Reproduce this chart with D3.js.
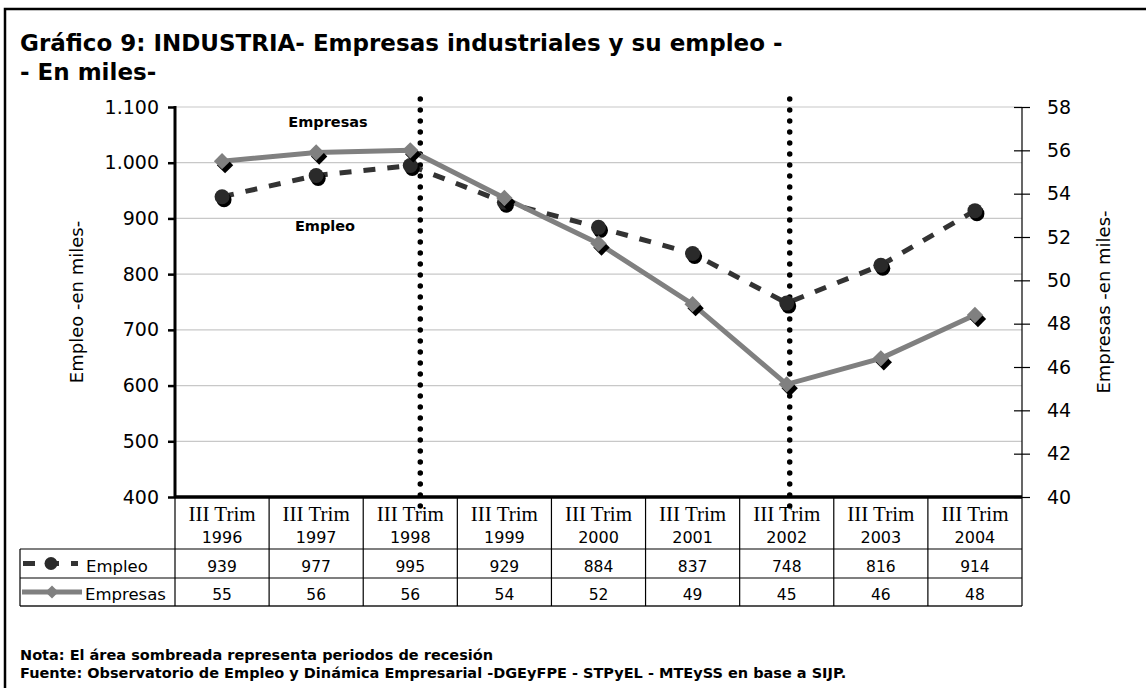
<!DOCTYPE html>
<html>
<head>
<meta charset="utf-8">
<script src="https://cdnjs.cloudflare.com/ajax/libs/d3/7.8.5/d3.min.js"></script>
<style>
  body { margin: 0; background: #fff; }
  #chart { width: 1146px; height: 688px; }
</style>
</head>
<body>
<div id="chart"></div>
<script>
// categories (third quarter of each year)
const years = ["1996", "1997", "1998", "1999", "2000", "2001", "2002", "2003", "2004"];
// Empleo, thousands (left axis)
const empleo = [939, 977, 995, 929, 884, 837, 748, 816, 914];
// Empresas, thousands (right axis) - plotted values, table shows them rounded
const empresas = [55.5, 55.9, 56.0, 53.8, 51.7, 48.9, 45.2, 46.4, 48.4];
const empresasTable = [55, 56, 56, 54, 52, 49, 45, 46, 48];
const leftTicks = [400, 500, 600, 700, 800, 900, 1000, 1100];
const rightTicks = [40, 42, 44, 46, 48, 50, 52, 54, 56, 58];
const recession = ["1998", "2002"];

const W = 1146, H = 688;
const svg = d3.select("#chart").append("svg").attr("width", W).attr("height", H)
  .attr("font-family", "DejaVu Sans, Verdana, sans-serif");

const plot = {left: 175, right: 1022, top: 107, bottom: 497};
const row1 = 549, row2 = 578, row3 = 606, legLeft = 20;

const x = d3.scaleBand().domain(years).range([plot.left, plot.right]);
const cx = d => x(d) + x.bandwidth() / 2;
const yL = d3.scaleLinear().domain([400, 1100]).range([plot.bottom, plot.top]);
const yR = d3.scaleLinear().domain([40, 58]).range([plot.bottom, plot.top]);

const es = d3.formatLocale({decimal: ",", thousands: ".", grouping: [3], currency: ["$", ""]});
const fmt = es.format(",");

// frame
svg.append("rect").attr("x", 5).attr("y", 9).attr("width", W + 10).attr("height", H + 10)
  .attr("fill", "none").attr("stroke", "#000").attr("stroke-width", 2.5);

// title
svg.append("text").attr("x", 20).attr("y", 51).attr("font-weight", "bold").attr("font-size", 23)
  .text("Gráfico 9: INDUSTRIA- Empresas industriales y su empleo -");
svg.append("text").attr("x", 20).attr("y", 80).attr("font-weight", "bold").attr("font-size", 23)
  .text("- En miles-");

// gridlines
svg.append("g").selectAll("line").data(leftTicks.slice(1)).join("line")
  .attr("x1", plot.left).attr("x2", plot.right)
  .attr("y1", d => yL(d)).attr("y2", d => yL(d))
  .attr("stroke", "#c8c8c8").attr("stroke-width", 1.2);

// left axis
const gL = svg.append("g").attr("transform", `translate(${plot.left},0)`)
  .call(d3.axisLeft(yL).tickValues(leftTicks).tickFormat(fmt).tickSize(7).tickPadding(9));
gL.select(".domain").remove();
gL.selectAll(".tick line").attr("stroke", "#000").attr("stroke-width", 2.5);
gL.selectAll(".tick text").attr("font-size", 19).attr("font-family", "DejaVu Sans").attr("fill", "#000");
svg.append("line").attr("x1", plot.left).attr("x2", plot.left).attr("y1", plot.top - 1).attr("y2", plot.bottom)
  .attr("stroke", "#000").attr("stroke-width", 3);

// right axis
const gR = svg.append("g").attr("transform", `translate(${plot.right},0)`)
  .call(d3.axisRight(yR).tickValues(rightTicks).tickSize(8).tickPadding(17));
gR.select(".domain").remove();
gR.selectAll(".tick line").attr("x1", -8).attr("stroke", "#000").attr("stroke-width", 1.2);
gR.selectAll(".tick text").attr("font-size", 19).attr("font-family", "DejaVu Sans").attr("fill", "#000");

// axis titles
svg.append("text").attr("transform", `translate(83,${(plot.top + plot.bottom) / 2}) rotate(-90)`)
  .attr("text-anchor", "middle").attr("font-size", 18).text("Empleo -en miles-");
svg.append("text").attr("transform", `translate(1110,${(plot.top + plot.bottom) / 2}) rotate(-90)`)
  .attr("text-anchor", "middle").attr("font-size", 18).text("Empresas -en miles-");

// table grid
const tg = svg.append("g").attr("stroke", "#000").attr("stroke-width", 1.2);
tg.append("line").attr("x1", legLeft).attr("x2", plot.right).attr("y1", row1).attr("y2", row1);
tg.append("line").attr("x1", legLeft).attr("x2", plot.right).attr("y1", row2).attr("y2", row2);
tg.append("line").attr("x1", legLeft).attr("x2", plot.right).attr("y1", row3).attr("y2", row3)
  .attr("stroke", "#555").attr("stroke-width", 2);
tg.append("line").attr("x1", legLeft).attr("x2", legLeft).attr("y1", row1).attr("y2", row3);
tg.selectAll("line.col").data(years).join("line").attr("class", "col")
  .attr("x1", d => x(d)).attr("x2", d => x(d)).attr("y1", plot.bottom).attr("y2", row3);
tg.append("line").attr("x1", plot.right).attr("x2", plot.right).attr("y1", plot.top).attr("y2", row3);

// bottom axis line
svg.append("line").attr("x1", plot.left).attr("x2", plot.right).attr("y1", plot.bottom).attr("y2", plot.bottom)
  .attr("stroke", "#000").attr("stroke-width", 3.5);

// table header
const hdr = svg.append("g").selectAll("g").data(years).join("g");
hdr.append("text").attr("x", cx).attr("y", plot.bottom + 24).attr("text-anchor", "middle")
  .attr("font-family", "Liberation Serif").attr("font-size", 21).text("III Trim");
hdr.append("text").attr("x", cx).attr("y", plot.bottom + 46).attr("text-anchor", "middle")
  .attr("font-size", 16).text(d => d);

// table values
svg.append("g").selectAll("text").data(empleo).join("text")
  .attr("x", (d, i) => cx(years[i])).attr("y", row1 + 23).attr("text-anchor", "middle")
  .attr("font-size", 15.5).text(d => d);
svg.append("g").selectAll("text").data(empresasTable).join("text")
  .attr("x", (d, i) => cx(years[i])).attr("y", row2 + 22).attr("text-anchor", "middle")
  .attr("font-size", 15.5).text(d => d);

// recession markers (dotted)
svg.append("g").selectAll("line").data(recession).join("line")
  .attr("x1", (d, i) => cx(d) + (i === 0 ? 10 : 3)).attr("x2", (d, i) => cx(d) + (i === 0 ? 10 : 3))
  .attr("y1", plot.top - 8).attr("y2", plot.bottom + 10)
  .attr("stroke", "#000").attr("stroke-width", 5.5).attr("stroke-linecap", "round")
  .attr("stroke-dasharray", "0,11");

// series
const lineE = d3.line().x((d, i) => cx(years[i])).y(d => yL(d));
const lineP = d3.line().x((d, i) => cx(years[i])).y(d => yR(d));

svg.append("path").datum(empleo).attr("d", lineE).attr("fill", "none")
  .attr("stroke", "#333").attr("stroke-width", 5).attr("stroke-dasharray", "12,12");
svg.append("path").datum(empresas).attr("d", lineP).attr("fill", "none")
  .attr("stroke", "#808080").attr("stroke-width", 5);

const diamond = d3.symbol().type(d3.symbolDiamond2).size(170);

// Empleo markers with shadow
const gE = svg.append("g");
gE.selectAll("circle.sh").data(empleo).join("circle").attr("class", "sh")
  .attr("cx", (d, i) => cx(years[i]) + 2).attr("cy", d => yL(d) + 3).attr("r", 7.5).attr("fill", "#000");
gE.selectAll("circle.mk").data(empleo).join("circle").attr("class", "mk")
  .attr("cx", (d, i) => cx(years[i])).attr("cy", d => yL(d)).attr("r", 7.5).attr("fill", "#2a2a2a");

// Empresas markers with shadow
const gP = svg.append("g");
gP.selectAll("path.sh").data(empresas).join("path").attr("class", "sh")
  .attr("transform", (d, i) => `translate(${cx(years[i]) + 3},${yR(d) + 4})`).attr("d", diamond).attr("fill", "#000");
gP.selectAll("path.mk").data(empresas).join("path").attr("class", "mk")
  .attr("transform", (d, i) => `translate(${cx(years[i])},${yR(d)})`).attr("d", diamond).attr("fill", "#808080");

// series labels
svg.append("text").attr("x", 328).attr("y", 127).attr("text-anchor", "middle")
  .attr("font-weight", "bold").attr("font-size", 14.5).text("Empresas");
svg.append("text").attr("x", 325).attr("y", 231).attr("text-anchor", "middle")
  .attr("font-weight", "bold").attr("font-size", 14.5).text("Empleo");

// legend keys in table
const ky1 = (row1 + row2) / 2, ky2 = (row2 + row3) / 2;
svg.append("line").attr("x1", 23).attr("x2", 78).attr("y1", ky1).attr("y2", ky1)
  .attr("stroke", "#333").attr("stroke-width", 5).attr("stroke-dasharray", "12,12");
svg.append("circle").attr("cx", 51).attr("cy", ky1).attr("r", 6.5).attr("fill", "#2a2a2a");
svg.append("line").attr("x1", 22).attr("x2", 82).attr("y1", ky2).attr("y2", ky2)
  .attr("stroke", "#808080").attr("stroke-width", 5);
svg.append("path").attr("transform", `translate(52,${ky2})`).attr("d", d3.symbol().type(d3.symbolDiamond2).size(110))
  .attr("fill", "#808080");
svg.append("text").attr("x", 86).attr("y", row1 + 23).attr("font-size", 16.5).text("Empleo");
svg.append("text").attr("x", 85).attr("y", row2 + 22).attr("font-size", 16.5).text("Empresas");

// notes
svg.append("text").attr("x", 20).attr("y", 660).attr("font-weight", "bold").attr("font-size", 14.5)
  .text("Nota: El área sombreada representa periodos de recesión");
svg.append("text").attr("x", 20).attr("y", 678).attr("font-weight", "bold").attr("font-size", 14.5)
  .text("Fuente: Observatorio de Empleo y Dinámica Empresarial -DGEyFPE - STPyEL -  MTEySS en base a SIJP.");
</script>
</body>
</html>
